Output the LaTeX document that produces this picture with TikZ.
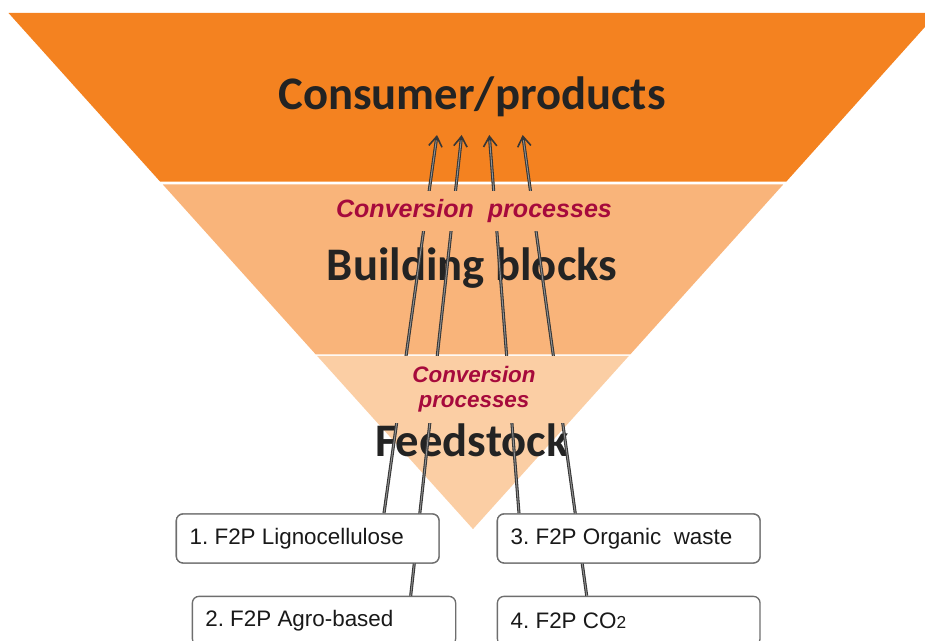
\documentclass[tikz,border=0pt]{standalone}
\usepackage{fontspec}
\setmainfont{Liberation Sans}
\newfontfamily\carlito{Carlito}
\usetikzlibrary{arrows.meta,calc}
\definecolor{bandA}{RGB}{244,130,32}
\definecolor{bandB}{RGB}{249,180,122}
\definecolor{bandC}{RGB}{251,206,164}
\definecolor{convred}{RGB}{166,10,60}
\definecolor{titlegray}{RGB}{35,35,35}
\definecolor{boxborder}{RGB}{110,110,110}
\definecolor{arrowdark}{RGB}{55,55,55}
\frenchspacing
\begin{document}
\begin{tikzpicture}[x=0.75pt,y=-0.75pt,
  title/.style={font=\carlito\bfseries\fontsize{35}{40}\selectfont, text=titlegray, inner sep=0pt},
  convA/.style={font=\bfseries\itshape\fontsize{18.8}{22}\selectfont, text=convred, fill=bandB, inner sep=0pt, minimum width=292*0.75pt, minimum height=40*0.75pt},
  convB/.style={font=\bfseries\itshape\fontsize{16.8}{20}\selectfont, text=convred, fill=bandC, inner sep=0pt, align=center, minimum width=184*0.75pt, minimum height=67*0.75pt},
  srcbox/.style={draw=boxborder, line width=1pt, rounded corners=5pt, fill=white, anchor=north west,
    font=\fontsize{16.8}{19}\selectfont, text=black!90, inner xsep=10pt, inner ysep=0pt,
    text width=#1, align=flush left, minimum height=49*0.75pt},
  arrowout/.style={draw=arrowdark, line width=2.3pt, -{Straight Barb[length=7.5pt,width=10pt,line width=1.2pt]}},
  arrowin/.style={draw=white, opacity=0.45, line width=0.7pt, shorten >=4pt}
]
\useasboundingbox (0,0) rectangle (925,641);
\clip (0,0) rectangle (925,641);
% bands
\fill[bandA] (8.5,13) -- (937.5,13) -- (786.2,181.7) -- (160.2,181.7) -- cycle;
\fill[bandB] (162.8,184.5) -- (783.2,184.5) -- (630.2,354.5) -- (315.8,354.5) -- cycle;
\fill[bandC] (317.2,356) -- (628.8,356) -- (473,529.1) -- cycle;
% titles
\node[title] (consumer) at (472,97) {Consumer/products};
\node[title] (building) at (472,268) {Building blocks};
\node[title] (feed) at (472,440) {Feedstock};
% boxes (positions)
\path (175.7,513.3) node[srcbox=177pt, minimum width=262.6*0.75pt] (b1) {1. F2P Lignocellulose};
\path (191.7,595.7) node[srcbox=178pt, minimum width=263.3*0.75pt, inner xsep=8.8pt] (b2) {2. F2P Agro-based};
\path (496.7,513.3) node[srcbox=177pt, minimum width=262.6*0.75pt] (b3) {3. F2P Organic\ \ waste};
\path (496.7,595.7) node[srcbox=177pt, minimum width=262.6*0.75pt] (b4) {4. F2P CO{\fontsize{13}{15}\selectfont 2}};
% arrow end points
\coordinate (s1) at ($(b1.north west)+(208.3,0)$);
\coordinate (s2) at ($(b2.north west)+(219,0)$);
\coordinate (s3) at ($(b3.north west)+(22.3,0)$);
\coordinate (s4) at ($(b4.north west)+(90,0)$);
\coordinate (t1) at (437,135);
\coordinate (t2) at (461.7,135);
\coordinate (t3) at (489.3,135);
\coordinate (t4) at (522.7,135);
% arrows
\foreach \i in {1,...,4}{
  \draw[arrowout] (s\i) -- (t\i);
  \draw[arrowin] (s\i) -- (t\i);
}
% conversion labels (cover the arrows)
\node[convA] (conv1) at (474,211.5) {Conversion\ \ processes};
\node[convB] (conv2) at (474,389.5) {Conversion\\[-1pt]processes};
% redraw boxes on top of arrows
\path (175.7,513.3) node[srcbox=177pt, minimum width=262.6*0.75pt] {1. F2P Lignocellulose};
\path (496.7,513.3) node[srcbox=177pt, minimum width=262.6*0.75pt] {3. F2P Organic\ \ waste};
\end{tikzpicture}
\end{document}
